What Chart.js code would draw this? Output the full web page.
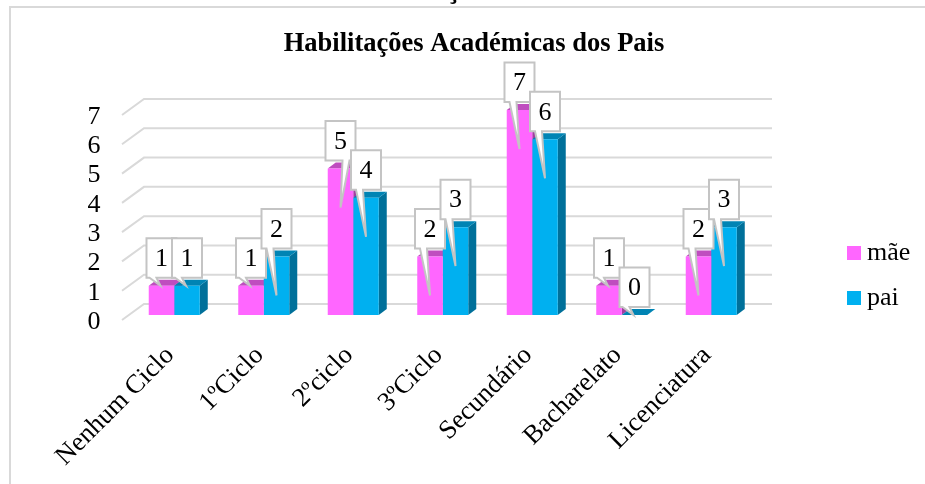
<!DOCTYPE html>
<html>
<head>
    <meta charset="UTF-8">
    <title>Habilitações Académicas dos Pais</title>
    <style>
        body {
            margin: 0;
            background-color: white;
            overflow: hidden;
        }
        #caption {
            position: absolute;
            top: -26px;
            left: 0;
            width: 950px;
            text-align: center;
            font: bold 29px/29px "Liberation Serif";
            color: black;
        }
        #myChart {
            position: absolute;
            left: 0;
            top: 0;
        }
    </style>
    <script src="https://cdn.jsdelivr.net/npm/chart.js"></script>
</head>
<body>
    <canvas id="myChart" width="925" height="484"></canvas>
    <div id="caption">Gráfico 5: Habilitação Académica dos Pais</div>
    <script>
        const categories = ['Nenhum Ciclo', '1ºCiclo', '2ºciclo', '3ºCiclo', 'Secundário', 'Bacharelato', 'Licenciatura'];
        const maeValues = [1, 1, 5, 2, 7, 1, 2];
        const paiValues = [1, 2, 4, 3, 6, 0, 3];
        const yTicks = [0, 1, 2, 3, 4, 5, 6, 7];

        const SERIF = '"Liberation Serif"';
        const GRID = '#d9d9d9';
        const faces = {
            'mãe': { top: '#bf4dbf', side: '#a040a0' },
            'pai': { top: '#0084b4', side: '#00709a' }
        };

        // gridlines and the top/side faces of the 3d look, behind the bars
        const backdrop = {
            id: 'backdrop',
            beforeDatasetsDraw(chart) {
                const ctx = chart.ctx;
                const yScale = chart.scales.y;
                const area = chart.chartArea;

                ctx.save();
                ctx.strokeStyle = GRID;
                ctx.lineWidth = 2;
                ctx.beginPath();
                ctx.moveTo(10, 484);
                ctx.lineTo(10, 7);
                ctx.lineTo(925, 7);
                yTicks.forEach(function (t) {
                    const y = yScale.getPixelForValue(t);
                    ctx.moveTo(area.left - 7.5, y + 5);
                    ctx.lineTo(area.left + 14.5, y - 11);
                    ctx.lineTo(area.right + 16, y - 11);
                });
                ctx.stroke();

                chart.data.datasets.forEach(function (ds, i) {
                    const c = faces[ds.label];
                    chart.getDatasetMeta(i).data.forEach(function (bar) {
                        const l = bar.x - bar.width / 2;
                        const r = bar.x + bar.width / 2;
                        ctx.fillStyle = c.side;
                        ctx.beginPath();
                        ctx.moveTo(r, bar.y);
                        ctx.lineTo(r + 8, bar.y - 6);
                        ctx.lineTo(r + 8, bar.base - 6);
                        ctx.lineTo(r, bar.base);
                        ctx.fill();
                        ctx.fillStyle = c.top;
                        ctx.beginPath();
                        ctx.moveTo(l, bar.y);
                        ctx.lineTo(l + 8, bar.y - 6);
                        ctx.lineTo(r + 8, bar.y - 6);
                        ctx.lineTo(r, bar.y);
                        ctx.fill();
                    });
                });
                ctx.restore();
            }
        };

        function drawCallout(ctx, bar, value, isMae) {
            const w = 30;
            const left = bar.x - 15;
            const top = bar.y - 47.5;
            const bottom = top + 39.5;
            let baseL = left + 5;
            let baseR = left + 12;
            let tipX = left + 15;
            let tipY = bar.y + 39;
            if (value < 2) {
                baseL = left + 3;
                baseR = left + 10;
                tipX = left + 14;
                tipY = bar.y;
            }
            else if (isMae && value == 5) {
                baseL = left + 17;
                baseR = left + 24;
            }
            ctx.beginPath();
            ctx.moveTo(left, top);
            ctx.lineTo(left + w, top);
            ctx.lineTo(left + w, bottom);
            ctx.lineTo(baseR, bottom);
            ctx.lineTo(tipX, tipY);
            ctx.lineTo(baseL, bottom);
            ctx.lineTo(left, bottom);
            ctx.closePath();
            ctx.fillStyle = 'white';
            ctx.fill();
            ctx.strokeStyle = '#c4c4c4';
            ctx.lineWidth = 2;
            ctx.stroke();
            ctx.fillStyle = 'black';
            ctx.fillText(String(value), left + w / 2, top + 21);
        }

        // data callouts and the legend on top of the bars
        const overlay = {
            id: 'overlay',
            afterLayout(chart) {
                // title sits a bit right of the canvas centre
                chart.titleBlock.left = 0;
                chart.titleBlock.right = 948;
            },
            afterDatasetsDraw(chart) {
                const ctx = chart.ctx;
                ctx.save();
                ctx.font = '26px ' + SERIF;
                ctx.textAlign = 'center';
                ctx.textBaseline = 'middle';
                categories.forEach(function (name, c) {
                    chart.data.datasets.forEach(function (ds, i) {
                        drawCallout(ctx, chart.getDatasetMeta(i).data[c], ds.data[c], i == 0);
                    });
                });

                ctx.textAlign = 'left';
                chart.data.datasets.forEach(function (ds, i) {
                    const y = 253 + i * 45;
                    ctx.fillStyle = ds.backgroundColor;
                    ctx.fillRect(847, y - 7, 14, 14);
                    ctx.fillStyle = 'black';
                    ctx.fillText(ds.label, 867, y);
                });
                ctx.restore();
            }
        };

        new Chart(document.getElementById('myChart'), {
            type: 'bar',
            data: {
                labels: categories,
                datasets: [
                    { label: 'mãe', data: maeValues, backgroundColor: '#ff66ff' },
                    { label: 'pai', data: paiValues, backgroundColor: '#00b0f0' }
                ]
            },
            options: {
                responsive: false,
                animation: false,
                events: [],
                categoryPercentage: 0.57,
                barPercentage: 1,
                layout: { padding: { left: 0, right: 169, top: 0, bottom: 0 } },
                plugins: {
                    legend: { display: false },
                    tooltip: { enabled: false },
                    title: {
                        display: true,
                        text: 'Habilitações Académicas dos Pais',
                        color: 'black',
                        font: { family: SERIF, size: 26.5, weight: 'bold', lineHeight: 1.2 },
                        padding: { top: 28.5, bottom: 49.7 }
                    }
                },
                scales: {
                    x: {
                        grid: { display: false },
                        border: { display: false },
                        afterFit(scale) { scale.height = 169; },
                        ticks: {
                            color: 'black',
                            font: { family: SERIF, size: 26.5 },
                            minRotation: 45,
                            maxRotation: 45,
                            autoSkip: false,
                            padding: 17,
                            labelOffset: -4
                        }
                    },
                    y: {
                        min: 0,
                        max: 7,
                        grid: { display: false },
                        border: { display: false },
                        afterFit(scale) { scale.width = 129.5; },
                        ticks: {
                            color: 'black',
                            font: { family: SERIF, size: 26 },
                            stepSize: 1,
                            autoSkip: false,
                            padding: 21,
                            labelOffset: 7
                        }
                    }
                }
            },
            plugins: [backdrop, overlay]
        });
    </script>
</body>
</html>
